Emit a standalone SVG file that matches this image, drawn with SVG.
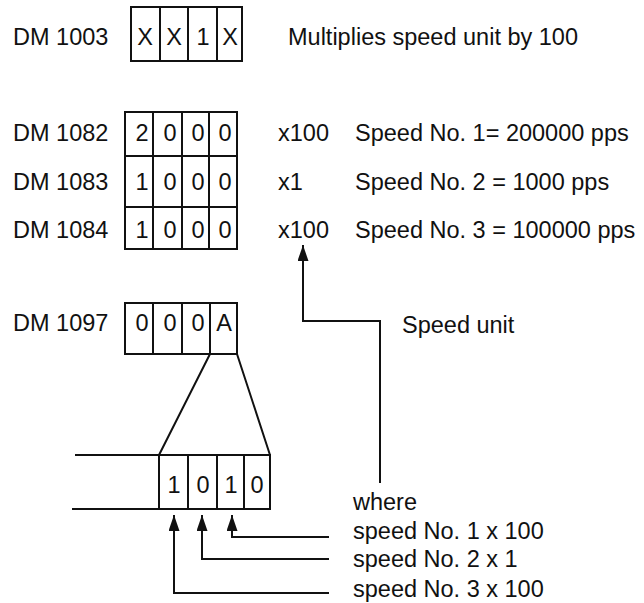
<svg xmlns="http://www.w3.org/2000/svg" width="644" height="603" viewBox="0 0 644 603">
<style>
text{font-family:"Liberation Sans",Arial,Helvetica,sans-serif;font-size:23.5px;fill:#111}
.c{text-anchor:middle}
.b{fill:none;stroke:#111;stroke-width:2}
.ln{fill:none;stroke:#111;stroke-width:2}
</style>
<defs>
<marker id="ah" viewBox="0 0 16 11" refX="16" refY="5.5" markerWidth="16" markerHeight="11" markerUnits="userSpaceOnUse" orient="auto">
<path d="M0,0 L16,5.5 L0,11 z" fill="#111"/>
</marker>
</defs>
<rect width="644" height="603" fill="#fff"/>

<g id="dm1003">
<text x="13" y="45">DM 1003</text>
<rect class="b" x="131" y="7" width="111" height="54"/>
<path class="ln" d="M160,7V61M188,7V61M217,7V61"/>
<text class="c" x="145" y="45">X</text>
<text class="c" x="174" y="45">X</text>
<text class="c" x="203" y="45">1</text>
<text class="c" x="230" y="45">X</text>
<text x="288" y="45">Multiplies speed unit by 100</text>
</g>

<g id="dm1082-1084">
<rect class="b" x="125" y="112" width="112" height="137"/>
<path class="ln" d="M125,156H237M125,207H237M153,112V249M182,112V249M209,112V249"/>
<text x="13" y="141">DM 1082</text>
<text x="13" y="190">DM 1083</text>
<text x="13" y="238">DM 1084</text>
<text class="c" x="142" y="141">2</text>
<text class="c" x="170" y="141">0</text>
<text class="c" x="198" y="141">0</text>
<text class="c" x="225" y="141">0</text>
<text class="c" x="142" y="190">1</text>
<text class="c" x="170" y="190">0</text>
<text class="c" x="198" y="190">0</text>
<text class="c" x="225" y="190">0</text>
<text class="c" x="142" y="238">1</text>
<text class="c" x="170" y="238">0</text>
<text class="c" x="198" y="238">0</text>
<text class="c" x="225" y="238">0</text>
<text x="278" y="141">x100</text>
<text x="278" y="190">x1</text>
<text x="278" y="238">x100</text>
<text x="355" y="141">Speed No. 1= 200000 pps</text>
<text x="355" y="190">Speed No. 2 = 1000 pps</text>
<text x="355" y="238">Speed No. 3 = 100000 pps</text>
</g>

<g id="dm1097">
<text x="13" y="331">DM 1097</text>
<rect class="b" x="125" y="303" width="112" height="51"/>
<path class="ln" d="M153,303V354M182,303V354M210,303V354"/>
<text class="c" x="142" y="331">0</text>
<text class="c" x="170" y="331">0</text>
<text class="c" x="198" y="331">0</text>
<text class="c" x="224" y="331">A</text>
</g>

<g id="bits">
<path class="ln" d="M210,354L159,455M237,354L270,455"/>
<path class="ln" d="M75,455H159M72,509H159"/>
<rect class="b" x="159" y="455" width="111" height="54"/>
<path class="ln" d="M188,455V509M217,455V509M244,455V509"/>
<text class="c" x="174" y="493">1</text>
<text class="c" x="203" y="493">0</text>
<text class="c" x="231" y="493">1</text>
<text class="c" x="257" y="493">0</text>
</g>

<g id="labels">
<text x="402" y="333">Speed unit</text>
<text x="353" y="510">where</text>
<text x="353" y="539">speed No. 1 x 100</text>
<text x="353" y="567">speed No. 2 x 1</text>
<text x="353" y="597">speed No. 3 x 100</text>
</g>

<g id="connectors">
<path class="ln" d="M380,483V321H303V245" marker-end="url(#ah)"/>
<path class="ln" d="M329,537H232V515" marker-end="url(#ah)"/>
<path class="ln" d="M329,559H202V515" marker-end="url(#ah)"/>
<path class="ln" d="M329,593H174V515" marker-end="url(#ah)"/>
</g>
</svg>
